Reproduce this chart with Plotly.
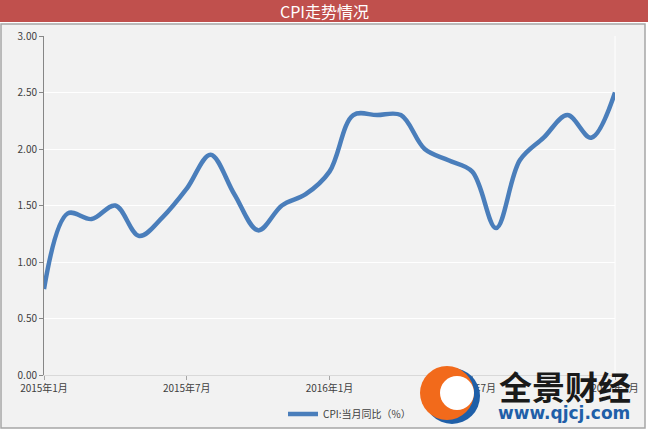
import plotly.graph_objects as go

months = ["2015年1月", "2015年2月", "2015年3月", "2015年4月", "2015年5月", "2015年6月",
          "2015年7月", "2015年8月", "2015年9月", "2015年10月", "2015年11月", "2015年12月",
          "2016年1月", "2016年2月", "2016年3月", "2016年4月", "2016年5月", "2016年6月",
          "2016年7月", "2016年8月", "2016年9月", "2016年10月", "2016年11月", "2016年12月",
          "2017年1月"]
cpi = [0.76, 1.43, 1.38, 1.5, 1.23, 1.4, 1.65, 1.95, 1.6, 1.28, 1.5, 1.6,
       1.8, 2.3, 2.3, 2.3, 2.0, 1.9, 1.8, 1.3, 1.9, 2.1, 2.3, 2.1, 2.5]
tick_labels = ["2015年1月", "2015年7月", "2016年1月", "2016年7月", "2017年1月"]
y_ticks = [0, 0.5, 1.0, 1.5, 2.0, 2.5, 3.0]

W, H = 648, 432
L, R, T, B = 44, 615, 36, 375

def px(x):
    return (x - L) / (R - L)

def py(y):
    return (B - y) / (B - T)

xs = list(range(len(months)))
tick_idx = [months.index(t) for t in tick_labels]

fig = go.Figure()
fig.add_trace(go.Scatter(
    x=xs, y=cpi, mode="lines", name="CPI:当月同比（%）",
    line=dict(color="#4A7EBB", width=4.5, shape="spline", smoothing=1.0),
))

font = "Noto Sans CJK SC"
shapes = [
    dict(type="rect", xref="paper", yref="paper", x0=px(1), x1=px(645), y0=py(428), y1=py(24),
         fillcolor="#F2F2F2", line=dict(color="#A6A6A6", width=1.5), layer="below"),
    dict(type="rect", xref="paper", yref="paper", x0=px(0), x1=px(648), y0=py(22), y1=py(0),
         fillcolor="#C0504D", line=dict(width=0), layer="below"),
    dict(type="line", xref="paper", yref="paper", x0=1, x1=1, y0=0, y1=1,
         line=dict(color="#FFFFFF", width=1), layer="below"),
    dict(type="circle", xref="paper", yref="paper", x0=px(424), x1=px(480), y0=py(424), y1=py(368),
         fillcolor="#1F5FA8", line=dict(width=0), layer="above"),
    dict(type="circle", xref="paper", yref="paper", x0=px(420), x1=px(474), y0=py(420), y1=py(366),
         fillcolor="#F26A1B", line=dict(width=0), layer="above"),
    dict(type="circle", xref="paper", yref="paper", x0=px(440), x1=px(474), y0=py(410), y1=py(376),
         fillcolor="#FFFFFF", line=dict(width=0), layer="above"),
]

annotations = [
    dict(text="CPI走势情况", xref="paper", yref="paper", x=px(324), y=py(11),
         xanchor="center", yanchor="middle", showarrow=False,
         font=dict(family=font, size=16, color="#FFFFFF")),
    dict(text="<b>全景财经</b>", xref="paper", yref="paper", x=px(565), y=py(386),
         xanchor="center", yanchor="middle", showarrow=False,
         font=dict(family=font, size=33, color="#1A1A1A")),
    dict(text="<b>www.qjcj.com</b>", xref="paper", yref="paper", x=px(564), y=py(413),
         xanchor="center", yanchor="middle", showarrow=False,
         font=dict(family="DejaVu Sans", size=17, color="#1F5FA8")),
]

fig.update_layout(
    width=W, height=H,
    margin=dict(l=L, r=W - R, t=T, b=H - B, pad=0, autoexpand=False),
    paper_bgcolor="#FFFFFF", plot_bgcolor="#F2F2F2",
    font=dict(family=font, size=10, color="#404040"),
    shapes=shapes, annotations=annotations,
    showlegend=True,
    legend=dict(orientation="h", x=px(283), y=py(414), xanchor="left", yanchor="middle",
                bgcolor="rgba(0,0,0,0)", font=dict(family=font, size=10, color="#404040"),
                itemwidth=30),
    xaxis=dict(range=[0, len(months) - 1], tickmode="array", tickvals=tick_idx, ticktext=tick_labels,
               showgrid=False, zeroline=False, showline=True, linecolor="#D9D9D9", linewidth=1,
               ticks="outside", ticklen=4, tickcolor="#A6A6A6", tickangle=0,
               tickfont=dict(size=10, color="#404040")),
    yaxis=dict(range=[0, 3], tickmode="array", tickvals=y_ticks,
               ticktext=[f"{v:.2f}" for v in y_ticks],
               showgrid=True, gridcolor="#FFFFFF", gridwidth=1, zeroline=False,
               showline=True, linecolor="#868686", linewidth=1,
               ticks="outside", ticklen=4, tickcolor="#868686",
               tickfont=dict(size=10, color="#404040")),
)

fig.write_html("out.html", config={"displayModeBar": False},
               post_script="document.body.style.margin='0';document.body.style.overflow='hidden';")
